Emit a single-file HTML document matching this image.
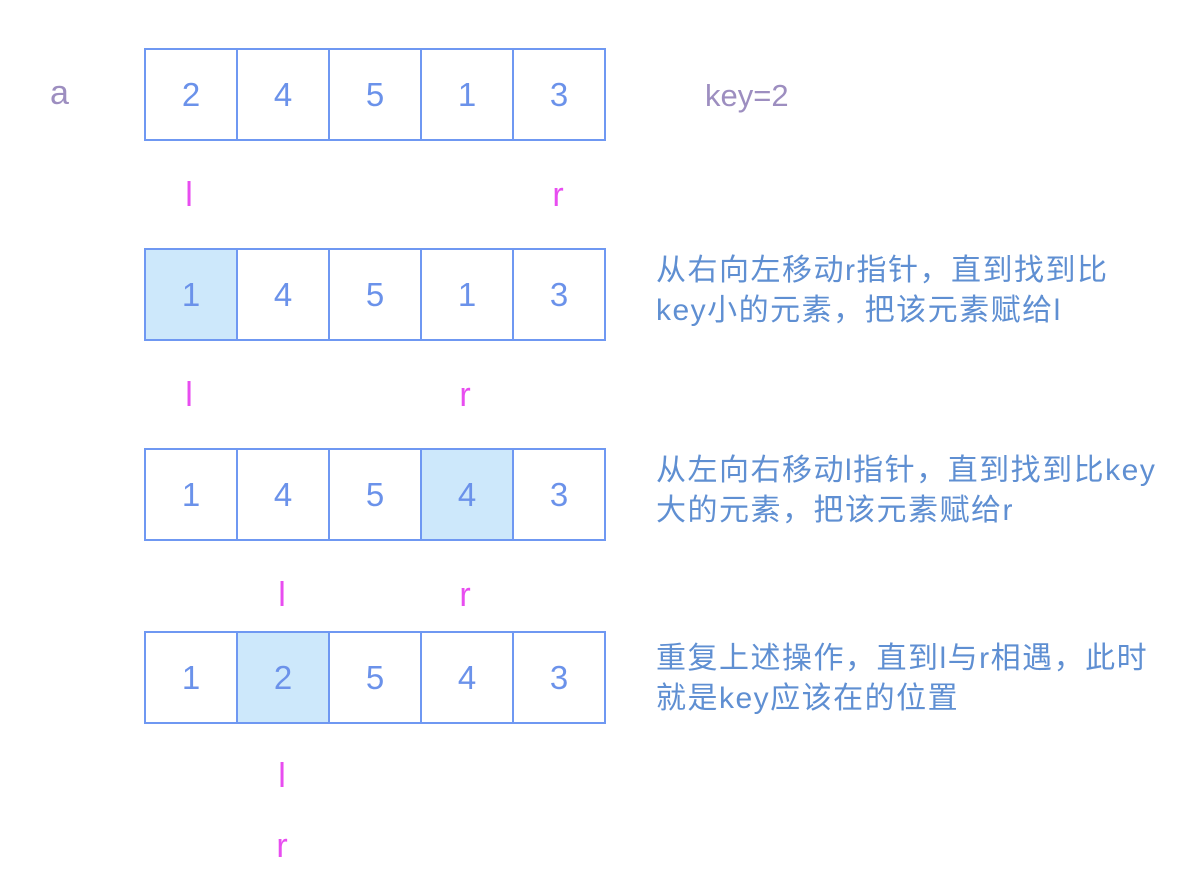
<!DOCTYPE html>
<html><head><meta charset="utf-8"><style>
body{margin:0;width:1192px;height:880px;background:#fff;position:relative;font-family:"Liberation Sans","Noto Sans CJK SC",sans-serif;overflow:hidden}
.row{position:absolute;left:144px;width:462px;height:93px;display:flex;box-sizing:border-box}
.c{width:94px;height:93px;box-sizing:border-box;border:2px solid #6f98f2;margin-left:-2px;display:flex;align-items:center;justify-content:center;font-size:33px;color:#6b92ea;background:#fff}
.c:first-child{margin-left:0}
.f{background:#cde8fb}
.p{position:absolute;font-size:34px;color:#e84df0;transform:translate(-50%,-50%);line-height:1}
.t{position:absolute;left:656px;font-size:30px;letter-spacing:1.5px;line-height:40px;color:#5f8fd2;white-space:nowrap}
.g{position:absolute;font-size:34px;color:#9d8ec0;line-height:1}
</style></head><body>
<div class="g" style="left:50px;top:76px">a</div>
<div class="g" style="left:705px;top:80px;font-size:31px">key=2</div>
<div class="row" style="top:48px"><div class="c">2</div><div class="c">4</div><div class="c">5</div><div class="c">1</div><div class="c">3</div></div>
<div class="p" style="left:189px;top:195px">l</div><div class="p" style="left:558px;top:195px">r</div>
<div class="row" style="top:248px"><div class="c f">1</div><div class="c">4</div><div class="c">5</div><div class="c">1</div><div class="c">3</div></div>
<div class="t" style="top:251px">从右向左移动r指针，直到找到比<br>key小的元素，把该元素赋给l</div>
<div class="p" style="left:189px;top:395px">l</div><div class="p" style="left:465px;top:395px">r</div>
<div class="row" style="top:448px"><div class="c">1</div><div class="c">4</div><div class="c">5</div><div class="c f">4</div><div class="c">3</div></div>
<div class="t" style="top:451px">从左向右移动l指针，直到找到比key<br>大的元素，把该元素赋给r</div>
<div class="p" style="left:282px;top:595px">l</div><div class="p" style="left:465px;top:595px">r</div>
<div class="row" style="top:631px"><div class="c">1</div><div class="c f">2</div><div class="c">5</div><div class="c">4</div><div class="c">3</div></div>
<div class="t" style="top:639px">重复上述操作，直到l与r相遇，此时<br>就是key应该在的位置</div>
<div class="p" style="left:282px;top:776px">l</div><div class="p" style="left:282px;top:846px">r</div>
</body></html>
